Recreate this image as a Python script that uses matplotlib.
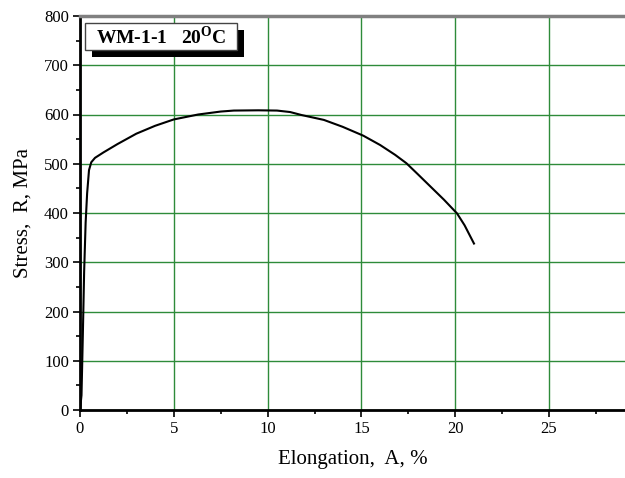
import matplotlib
matplotlib.use("Agg")
import matplotlib.pyplot as plt
from matplotlib.patches import Rectangle
from matplotlib.ticker import MultipleLocator

plt.rcParams['font.family'] = 'Liberation Serif'
plt.rcParams['mathtext.fontset'] = 'custom'
plt.rcParams['mathtext.rm'] = 'Liberation Serif:bold'

# stress-strain curve
elong = [0, 0.08, 0.15, 0.22, 0.3, 0.38, 0.48, 0.6, 0.8, 1.25, 2, 3, 4, 5,
         6.3, 7.5, 8.2, 9.5, 10.5, 11.2, 11.8, 13, 14, 15.1, 16, 16.8, 17.4,
         18.0, 18.7, 19.4, 20.1, 20.5, 21.0]
stress = [0, 30, 150, 280, 380, 440, 487, 503, 512, 523, 540, 561, 577, 590,
          600, 606, 608, 608.5, 608, 605, 599, 589, 575, 557, 538, 518, 501,
          479, 453, 427, 399, 375, 338]

x_ticks = [0, 5, 10, 15, 20, 25]
y_ticks = [0, 100, 200, 300, 400, 500, 600, 700, 800]
label = r'WM-1-1   20$^{\mathrm{O}}$C'

W, H = 625, 478
fig = plt.figure(figsize=(W / 100, H / 100), dpi=100)
ax = fig.add_axes([80 / W, 1 - 410 / H, 1 - 80 / W, (410 - 16) / H])

ax.plot(elong, stress, color='black', lw=1.5, zorder=3)

ax.set_xlim(0, 29.05)
ax.set_ylim(0, 800)
ax.set_xticks(x_ticks)
ax.set_yticks(y_ticks)
ax.xaxis.set_minor_locator(MultipleLocator(2.5))
ax.yaxis.set_minor_locator(MultipleLocator(50))
ax.grid(True, which='major', color='#2e8b3a', lw=1.0)
ax.set_axisbelow(True)

ax.tick_params(which='major', direction='out', length=5, width=1.2,
               labelsize=12, pad=3)
ax.tick_params(which='minor', direction='out', length=3, width=1.2)

ax.spines['left'].set_linewidth(2)
ax.spines['bottom'].set_linewidth(2)
ax.spines['top'].set_linewidth(2.5)
ax.spines['top'].set_color('#808080')
ax.spines['right'].set_visible(False)

ax.set_xlabel('Elongation,  A, %', fontsize=15, labelpad=9)
ax.set_ylabel('Stress,  R, MPa', fontsize=15, labelpad=8)

# legend box with drop shadow (pixel coords -> figure fraction)
def fbox(x0, y0, x1, y1, **kw):
    return Rectangle((x0 / W, 1 - y1 / H), (x1 - x0) / W, (y1 - y0) / H,
                     transform=fig.transFigure, **kw)

fig.patches.append(fbox(92, 30, 244, 57, facecolor='black', edgecolor='none'))
fig.patches.append(fbox(85, 23, 237, 50, facecolor='white',
                        edgecolor='#444444', lw=1))
fig.text(161 / W, 1 - 37 / H, label, fontsize=14, fontweight='bold',
         ha='center', va='center')

fig.savefig('out.png', dpi=100)
